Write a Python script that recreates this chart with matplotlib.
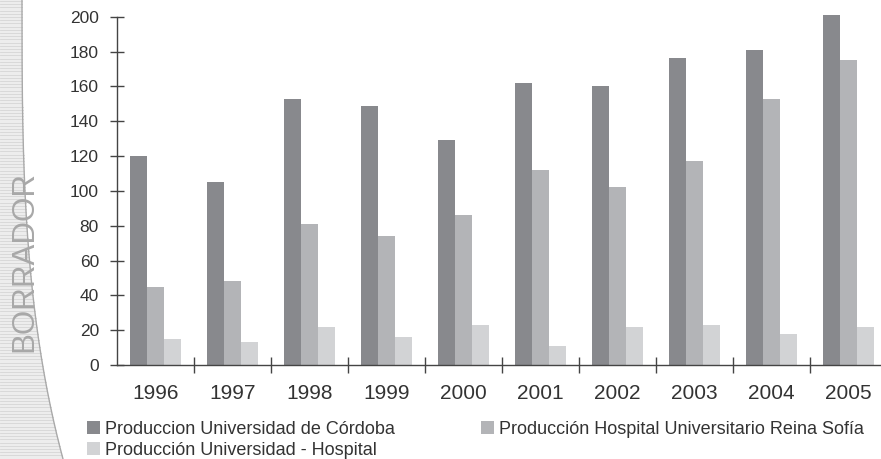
import matplotlib
matplotlib.use("Agg")
import matplotlib.pyplot as plt
import numpy as np

plt.rcParams['font.family'] = ['Liberation Sans', 'DejaVu Sans']

years = ["1996", "1997", "1998", "1999", "2000", "2001", "2002", "2003", "2004", "2005"]
univ_cordoba = [120, 105, 153, 149, 129, 162, 160, 176, 181, 201]
hosp_reina_sofia = [45, 48, 81, 74, 86, 112, 102, 117, 153, 175]
univ_hospital = [15, 13, 22, 16, 23, 11, 22, 23, 18, 22]

labels = ["Produccion Universidad de Córdoba",
          "Producción Hospital Universitario Reina Sofía",
          "Producción Universidad - Hospital"]
colors = ["#88898d", "#b3b4b7", "#d2d3d5"]
txt = "#333333"

W, H = 881, 459
fig = plt.figure(figsize=(W / 100, H / 100), dpi=100)

# watermark strip on the left
bg = fig.add_axes([0, 0, 1, 1], zorder=0)
bg.set_xlim(0, W)
bg.set_ylim(H, 0)
bg.axis("off")
yy = np.linspace(0, H, 200)
edge = 22 + 41 * (yy / H) ** 3
bg.fill_betweenx(yy, 0, edge, color="#ededed", lw=0)
for y in np.arange(1, H, 3.2):
    xe = 22 + 41 * (y / H) ** 3
    bg.plot([0, xe], [y, y], color="#d6d6d6", lw=0.6)
bg.plot(edge, yy, color="#a9a9a9", lw=1.0)
bg.text(24, 261, "BORRADOR", rotation=90, ha="center", va="center",
        fontsize=22.5, color="#a8a8a8")

# main chart
x0, x1 = 117, 887
ybot, y200 = 365, 16.7
ytop_val = 205
ytop = ybot - (ybot - y200) * ytop_val / 200
ax = fig.add_axes([x0 / W, 1 - ybot / H, (x1 - x0) / W, (ybot - ytop) / H], zorder=1)
ax.patch.set_alpha(0)

x = np.arange(len(years))
bw = 0.225
series = [univ_cordoba, hosp_reina_sofia, univ_hospital]
bars = []
for i, (vals, c) in enumerate(zip(series, colors)):
    b = ax.bar(x + (i - 1) * bw, vals, width=bw, color=c, lw=0, label=labels[i])
    bars.append(b)

ax.set_xlim(-0.5, len(years) - 0.5)
ax.set_ylim(0, ytop_val)
ax.set_yticks(np.arange(0, 201, 20))
ax.spines["left"].set_bounds(0, 200)
for s in ["top", "right"]:
    ax.spines[s].set_visible(False)
for s in ["left", "bottom"]:
    ax.spines[s].set_color("#444444")
    ax.spines[s].set_linewidth(1.0)

ax.set_xticks(x)
ax.set_xticklabels(years)
ax.set_xticks(np.arange(0.5, len(years) - 0.5, 1), minor=True)
ax.tick_params(axis="x", which="major", length=0, pad=14, labelsize=15, labelcolor=txt)
ax.tick_params(axis="x", which="minor", direction="inout", length=11, width=1, color="#444444")
ax.tick_params(axis="y", direction="inout", length=10, width=1, color="#444444",
               pad=8, labelsize=12.5, labelcolor=txt)

h1 = [bars[0], bars[2]]
l1 = [labels[0], labels[2]]
leg_kw = dict(loc="upper left", frameon=False, fontsize=13, handlelength=0.7,
              handleheight=0.7, handletextpad=0.3, labelspacing=0.2, borderpad=0,
              borderaxespad=0, labelcolor=txt)
fig.legend(h1, l1, bbox_to_anchor=(87 / W, 1 - 421 / H), **leg_kw)
fig.legend([bars[1]], [labels[1]], bbox_to_anchor=(481 / W, 1 - 421 / H), **leg_kw)

fig.savefig("out.png", dpi=100, facecolor="white")
